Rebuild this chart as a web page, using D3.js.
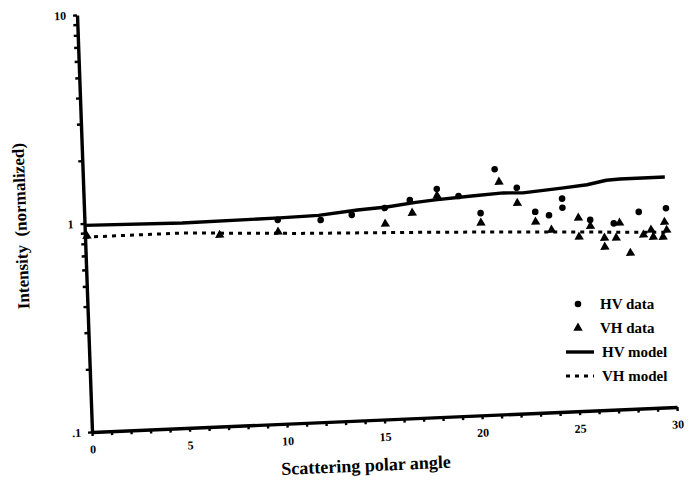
<!DOCTYPE html>
<html>
<head>
<meta charset="utf-8">
<script src="https://cdn.jsdelivr.net/npm/d3@7"></script>
<style>
  body { margin: 0; background: #fff; }
  svg { display: block; }
  text { font-family: "Liberation Serif", "DejaVu Serif", serif; font-weight: bold; fill: #000; }
</style>
</head>
<body>
<svg id="chart" width="693" height="487"></svg>
<script>
// ---- data ----
const xTickValues = [0, 5, 10, 15, 20, 25, 30];
const yTickLabels = { 0.1: ".1", 1: "1", 10: "10" };

const hvModelX = [0, 5, 10, 12, 14, 15.5, 17, 18, 20, 21.5, 22.5, 24.5, 25.8, 26.8, 27.5, 29.8];
const hvModelY = [0.98, 0.96, 0.97, 0.98, 1.02, 1.04, 1.08, 1.10, 1.13, 1.15, 1.14, 1.18, 1.21, 1.26, 1.27, 1.27];

const vhModelX = [0, 5, 11, 18, 24, 29.8];
const vhModelY = [0.86, 0.86, 0.81, 0.77, 0.73, 0.69];

const hvDataX = [9.9, 12.1, 13.7, 15.4, 16.7, 18.1, 19.2, 20.3, 21.1, 22.2, 23.1, 23.8, 24.5, 24.5, 25.9, 27.1, 28.4, 29.8];
const hvDataY = [0.95, 0.93, 0.97, 1.03, 1.11, 1.24, 1.135, 0.93, 1.50, 1.21, 0.92, 0.88, 1.05, 0.95, 0.82, 0.78, 0.875, 0.90];

const vhDataX = [0.1, 6.9, 9.9, 15.4, 16.8, 18.1, 20.3, 21.3, 22.2, 23.1, 23.9, 25.3, 25.3, 25.9, 26.6, 26.6, 27.4, 27.2, 27.9, 28.6, 29.0, 29.1, 29.7, 29.8, 29.6];
const vhDataY = [0.87, 0.826, 0.832, 0.864, 0.962, 1.15, 0.835, 1.30, 1.02, 0.823, 0.747, 0.843, 0.683, 0.765, 0.667, 0.604, 0.782, 0.664, 0.558, 0.678, 0.713, 0.659, 0.773, 0.707, 0.656];

const legendLabels = ["HV data", "VH data", "HV model", "VH model"];

// ---- layout ----
const W = 585, H = 417;
const x = d3.scaleLinear().domain([0, 30]).range([0, W]);
const y = d3.scaleLog().domain([0.1, 10]).range([H, 0]);

const svg = d3.select("#chart");
// the plot frame is slightly sheared: the x axis climbs 25px over its length
// and the y axis leans 15px to the left at the top
const g = svg.append("g")
  .attr("transform", `matrix(1,${-25 / W},${15 / H},1,77,15)`);

// x axis: a tick at every degree, labels every 5
const xAxis = d3.axisBottom(x)
  .tickValues(d3.range(0, 31))
  .tickSize(4)
  .tickSizeOuter(0)
  .tickPadding(9)
  .tickFormat(d => (xTickValues.includes(d) ? d : ""));
const gx = g.append("g").attr("transform", `translate(0,${H})`).call(xAxis);

// y axis: logarithmic minor ticks, labels at the decades
const yTickValues = [];
[0.1, 1].forEach(dec => { for (let k = 1; k <= 9; k++) yTickValues.push(+(dec * k).toPrecision(3)); });
yTickValues.push(10);
const yAxis = d3.axisLeft(y)
  .tickValues(yTickValues)
  .tickSize(4)
  .tickSizeOuter(0)
  .tickPadding(7)
  .tickFormat(d => yTickLabels[d] || "");
const gy = g.append("g").call(yAxis);

[gx, gy].forEach(ax => {
  ax.select(".domain").attr("stroke", "#000").attr("stroke-width", 3.4);
  ax.selectAll(".tick line").attr("stroke", "#000").attr("stroke-width", 2.4);
  ax.selectAll(".tick text").attr("font-size", 12).attr("font-family", '"Liberation Serif", serif').attr("font-weight", "bold");
});

// model curves
const line = d3.line().x(d => x(d[0])).y(d => y(d[1]));
g.append("path")
  .datum(d3.zip(hvModelX, hvModelY))
  .attr("d", line)
  .attr("fill", "none").attr("stroke", "#000").attr("stroke-width", 3.4)
  .attr("stroke-linejoin", "round");
g.append("path")
  .datum(d3.zip(vhModelX, vhModelY))
  .attr("d", line)
  .attr("fill", "none").attr("stroke", "#000").attr("stroke-width", 3)
  .attr("stroke-dasharray", "4,5");

// measured points
g.append("g").selectAll("circle")
  .data(d3.zip(hvDataX, hvDataY))
  .join("circle")
  .attr("cx", d => x(d[0])).attr("cy", d => y(d[1]))
  .attr("r", 3.3).attr("fill", "#000");

const tri = d3.symbol(d3.symbolTriangle, 38);
g.append("g").selectAll("path")
  .data(d3.zip(vhDataX, vhDataY))
  .join("path")
  .attr("d", tri)
  .attr("transform", d => `translate(${x(d[0])},${y(d[1])})`)
  .attr("fill", "#000");

// axis titles
g.append("text")
  .attr("x", W / 2 - 20).attr("y", H + 51)
  .attr("text-anchor", "middle").attr("font-size", 18)
  .text("Scattering polar angle");
g.append("text")
  .attr("transform", `translate(-58,${H / 2}) rotate(-90)`)
  .attr("text-anchor", "middle").attr("font-size", 17)
  .style("white-space", "pre")
  .text("Intensity  (normalized)");

// legend
const legend = svg.append("g").attr("transform", "translate(578,304)");
const rowGap = 24;
legendLabels.forEach((lab, i) => {
  const row = legend.append("g").attr("transform", `translate(0,${i * rowGap})`);
  if (i === 0) row.append("circle").attr("r", 3.3).attr("fill", "#000");
  if (i === 1) row.append("path").attr("d", tri).attr("fill", "#000");
  if (i === 2) row.append("line").attr("x1", -12).attr("x2", 16).attr("stroke", "#000").attr("stroke-width", 3.4);
  if (i === 3) row.append("line").attr("x1", -12).attr("x2", 16).attr("stroke", "#000").attr("stroke-width", 3).attr("stroke-dasharray", "4,5");
  row.append("text").attr("x", i < 2 ? 22 : 24).attr("dy", "0.35em").attr("font-size", 15).text(lab);
});
</script>
</body>
</html>
